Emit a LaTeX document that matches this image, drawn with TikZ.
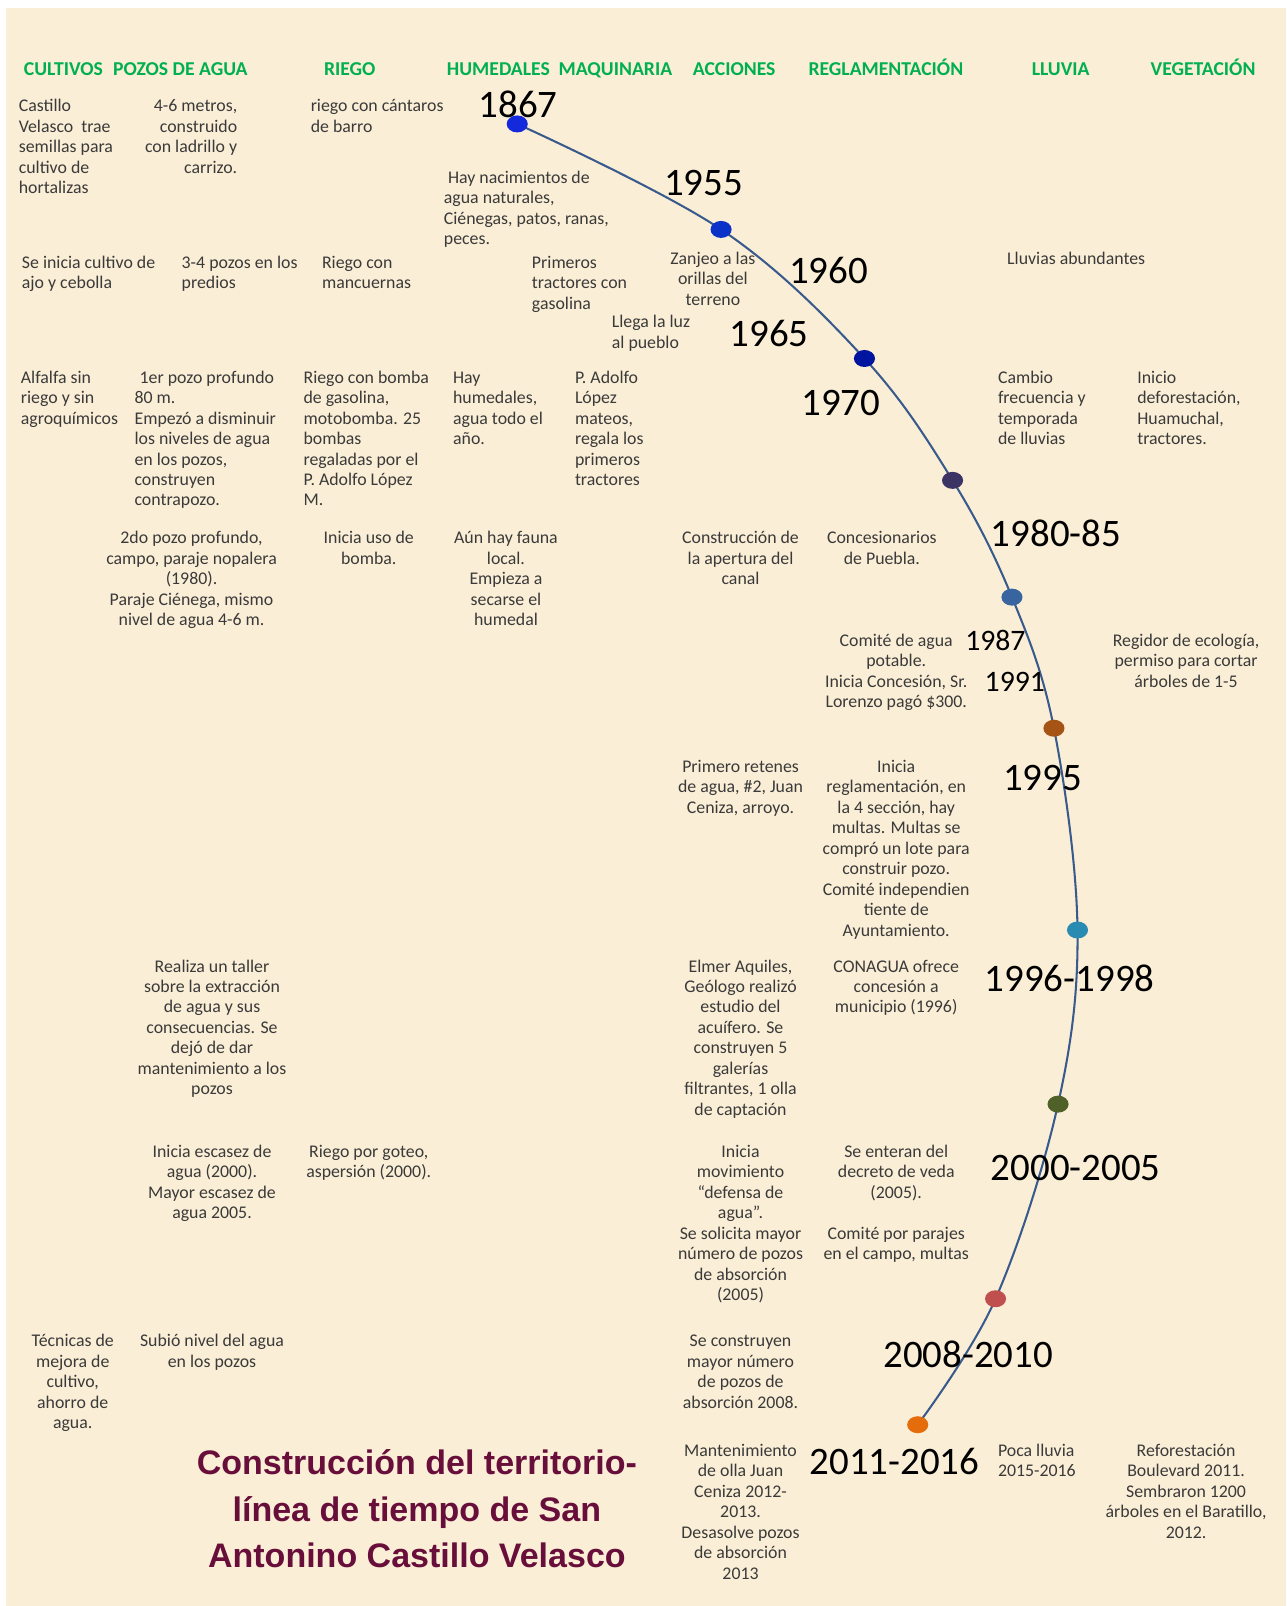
\documentclass[tikz,border=0pt]{standalone}
\usepackage{fontspec}
\setmainfont{Carlito}
\newfontfamily\titlefont{Liberation Sans}
\usetikzlibrary{shapes.geometric}
\definecolor{bgcol}{RGB}{251,238,214}
\definecolor{txtcol}{RGB}{58,58,58}
\definecolor{headgreen}{RGB}{0,176,80}
\definecolor{titlecol}{RGB}{104,14,58}
\definecolor{linecol}{RGB}{56,90,140}
\definecolor{dA}{RGB}{20,40,220}
\definecolor{dB}{RGB}{10,50,200}
\definecolor{dC}{RGB}{0,20,160}
\definecolor{dD}{RGB}{60,52,100}
\definecolor{dE}{RGB}{56,101,159}
\definecolor{dF}{RGB}{166,84,22}
\definecolor{dG}{RGB}{42,139,178}
\definecolor{dH}{RGB}{79,97,41}
\definecolor{dI}{RGB}{192,80,77}
\definecolor{dJ}{RGB}{228,108,10}
\newcommand\txL[1]{\begin{tabular}[t]{@{}l@{}}#1\end{tabular}}
\newcommand\txC[1]{\begin{tabular}[t]{@{}c@{}}#1\end{tabular}}
\newcommand\txR[1]{\begin{tabular}[t]{@{}r@{}}#1\end{tabular}}
\tikzset{
  body/.style={font=\fontsize{8.7}{10}\selectfont, text=txtcol, inner sep=0pt, yshift=-1pt},
  bl/.style={body, anchor=base west},
  bc/.style={body, anchor=base},
  br/.style={body, anchor=base east},
  yr/.style={font=\fontsize{19}{22}\selectfont, text=black, inner sep=0pt, anchor=base west, yshift=-0.5pt},
  yrs/.style={font=\fontsize{14.5}{17}\selectfont, text=black, inner sep=0pt, anchor=base west, yshift=-0.5pt},
  head/.style={font=\bfseries\fontsize{9.6}{11}\selectfont, text=headgreen, inner sep=0pt, anchor=base west, yshift=-1pt},
  dot/.style={ellipse, minimum width=10.3pt, minimum height=8.3pt, inner sep=0pt, draw=none},
  tline/.style={draw=linecol, line width=1pt}
}
\begin{document}
\begin{tikzpicture}[x=0.5pt,y=-0.5pt]
\useasboundingbox (0,0) rectangle (1256,1568);
\fill[white] (0,0) rectangle (1256,1568);
\fill[bgcol] (6,8) rectangle (1256,1568);

% headings
\node[head] (h1) at (23,72) {CULTIVOS};
\node[head] (h2) at (110,72) {POZOS DE AGUA};
\node[head] (h3) at (316,72) {RIEGO};
\node[head] (h4) at (436,72) {HUMEDALES};
\node[head] (h5) at (545,72) {MAQUINARIA};
\node[head] (h6) at (676,72) {ACCIONES};
\node[head] (h7) at (789,72) {REGLAMENTACIÓN};
\node[head] (h8) at (1007,72) {LLUVIA};
\node[head] (h9) at (1123,72) {VEGETACIÓN};

% timeline
\coordinate (p1) at (505,121);
\coordinate (p2) at (704,224);
\coordinate (p3) at (844,350);
\coordinate (p4) at (930,469);
\coordinate (p5) at (988,583);
\coordinate (p6) at (1029,711);
\coordinate (p7) at (1052,908);
\coordinate (p8) at (1033,1078);
\coordinate (p9) at (972,1268);
\coordinate (p10) at (896,1391);
\draw[tline] plot[smooth, tension=0.6] coordinates {(p1) (p2) (p3) (p4) (p5) (p6) (p7) (p8) (p9) (p10)};

% years
\node[yr] (y1867) at (467,114) {1867};
\node[yr] (y1955) at (648,190) {1955};
\node[yr] (y1960) at (770,276) {1960};
\node[yr] (y1965) at (712,337) {1965};
\node[yr] (y1970) at (782,405) {1970};
\node[yr] (y1980) at (967,533) {1980-85};
\node[yrs] (y1987) at (942,634) {1987};
\node[yrs] (y1991) at (961,674) {1991};
\node[yr] (y1995) at (979,771) {1995};
\node[yr] (y1996) at (961,967) {1996-1998};
\node[yr] (y2000) at (967,1152) {2000-2005};
\node[yr] (y2008) at (862,1334) {2008-2010};
\node[yr] (y2011) at (790,1439) {2011-2016};

% dots
\node[dot, fill=dA] (d1) at (p1) {};
\node[dot, fill=dB] (d2) at (p2) {};
\node[dot, fill=dC] (d3) at (p3) {};
\node[dot, fill=dD] (d4) at (p4) {};
\node[dot, fill=dE] (d5) at (p5) {};
\node[dot, fill=dF] (d6) at (p6) {};
\node[dot, fill=dG] (d7) at (p7) {};
\node[dot, fill=dH] (d8) at (p8) {};
\node[dot, fill=dI] (d9) at (p9) {};
\node[dot, fill=dJ] (d10) at (p10) {};

% row 1
\node[bl] (t1) at (18,107) {\txL{Castillo\\Velasco\ \ trae\\semillas para\\cultivo de\\hortalizas}};
\node[br] (t2) at (232,107) {\txR{4-6 metros,\\construido\\con ladrillo y\\carrizo.}};
\node[bl] (t3) at (303,107) {\txL{riego con cántaros\\de barro}};
\node[bl] (t4) at (433,177) {\txL{\hspace{2pt}Hay nacimientos de\\agua naturales,\\Ciénegas, patos, ranas,\\peces.}};

% row 2
\node[bl] (t5) at (21,260) {\txL{Se inicia cultivo de\\ajo y cebolla}};
\node[bl] (t6) at (177,260) {\txL{3-4 pozos en los\\predios}};
\node[bl] (t7) at (314,260) {\txL{Riego con\\mancuernas}};
\node[bl] (t8) at (519,260) {\txL{Primeros\\tractores con\\gasolina}};
\node[bc] (t9) at (696,256) {\txC{Zanjeo a las\\orillas del\\terreno}};
\node[bl] (t10) at (983,256) {\txL{Lluvias abundantes}};
\node[bl] (t11) at (597,318) {\txL{Llega la luz\\al pueblo}};

% row 3
\node[bl] (t12) at (20,372) {\txL{Alfalfa sin\\riego y sin\\agroquímicos}};
\node[bl] (t13) at (131,372) {\txL{\hspace{2.5pt}1er pozo profundo\\80 m.\\Empezó a disminuir\\los niveles de agua\\en los pozos,\\construyen\\contrapozo.}};
\node[bl] (t14) at (296,372) {\txL{Riego con bomba\\de gasolina,\\motobomba. 25\\bombas\\regaladas por el\\P. Adolfo López\\M.}};
\node[bl] (t15) at (442,372) {\txL{Hay\\humedales,\\agua todo el\\año.}};
\node[bl] (t16) at (561,372) {\txL{P. Adolfo\\López\\mateos,\\regala los\\primeros\\tractores}};
\node[bl] (t17) at (974,372) {\txL{Cambio\\frecuencia y\\temporada\\de lluvias}};
\node[bl] (t18) at (1110,372) {\txL{Inicio\\deforestación,\\Huamuchal,\\tractores.}};

% row 4
\node[bc] (t19) at (187,529) {\txC{2do pozo profundo,\\campo, paraje nopalera\\(1980).\\Paraje Ciénega, mismo\\nivel de agua 4-6 m.}};
\node[bc] (t20) at (360,529) {\txC{Inicia uso de\\bomba.}};
\node[bc] (t21) at (494,529) {\txC{Aún hay fauna\\local.\\Empieza a\\secarse el\\humedal}};
\node[bc] (t22) at (723,529) {\txC{Construcción de\\la apertura del\\canal}};
\node[bc] (t23) at (861,529) {\txC{Concesionarios\\de Puebla.}};

% row 5
\node[bc] (t24) at (875,629) {\txC{Comité de agua\\potable.\\Inicia Concesión, Sr.\\Lorenzo pagó \$300.}};
\node[bc] (t25) at (1158,629) {\txC{Regidor de ecología,\\permiso para cortar\\árboles de 1-5}};

% row 6
\node[bc] (t26) at (723,752) {\txC{Primero retenes\\de agua, \#2, Juan\\Ceniza, arroyo.}};
\node[bc] (t27) at (875,752) {\txC{Inicia\\reglamentación, en\\la 4 sección, hay\\multas. Multas se\\compró un lote para\\construir pozo.\\Comité independien\\tiente de\\Ayuntamiento.}};

% row 7
\node[bc] (t28) at (207,947) {\txC{Realiza un taller\\sobre la extracción\\de agua y sus\\consecuencias. Se\\dejó de dar\\mantenimiento a los\\pozos}};
\node[bc] (t29) at (723,947) {\txC{Elmer Aquiles,\\Geólogo realizó\\estudio del\\acuífero. Se\\construyen 5\\galerías\\filtrantes, 1 olla\\de captación}};
\node[bc] (t30) at (875,947) {\txC{CONAGUA ofrece\\concesión a\\municipio (1996)}};

% row 8
\node[bc] (t31) at (207,1128) {\txC{Inicia escasez de\\agua (2000).\\Mayor escasez de\\agua 2005.}};
\node[bc] (t32) at (360,1128) {\txC{Riego por goteo,\\aspersión (2000).}};
\node[bc] (t33) at (723,1128) {\txC{Inicia\\movimiento\\“defensa de\\agua”.\\Se solicita mayor\\número de pozos\\de absorción\\(2005)}};
\node[bc] (t34) at (875,1128) {\txC{Se enteran del\\decreto de veda\\(2005).}};
\node[bc] (t35) at (875,1208) {\txC{Comité por parajes\\en el campo, multas}};

% row 9
\node[bc] (t36) at (71,1313) {\txC{Técnicas de\\mejora de\\cultivo,\\ahorro de\\agua.}};
\node[bc] (t37) at (207,1313) {\txC{Subió nivel del agua\\en los pozos}};
\node[bc] (t38) at (723,1313) {\txC{Se construyen\\mayor número\\de pozos de\\absorción 2008.}};

% row 10
\node[bc] (t39) at (723,1420) {\txC{Mantenimiento\\de olla Juan\\Ceniza 2012-\\2013.\\Desasolve pozos\\de absorción\\2013}};
\node[bl] (t40) at (974,1420) {\txL{Poca lluvia\\2015-2016}};
\node[bc] (t41) at (1158,1420) {\txC{Reforestación\\Boulevard 2011.\\Sembraron 1200\\árboles en el Baratillo,\\2012.}};

% title
\node[anchor=base, inner sep=0pt, text=titlecol, font=\titlefont\bfseries\fontsize{16.6}{22.5}\selectfont] (title) at (407,1440) {\txC{Construcción del territorio-\\línea de tiempo de San\\Antonino Castillo Velasco}};
\end{tikzpicture}
\end{document}
